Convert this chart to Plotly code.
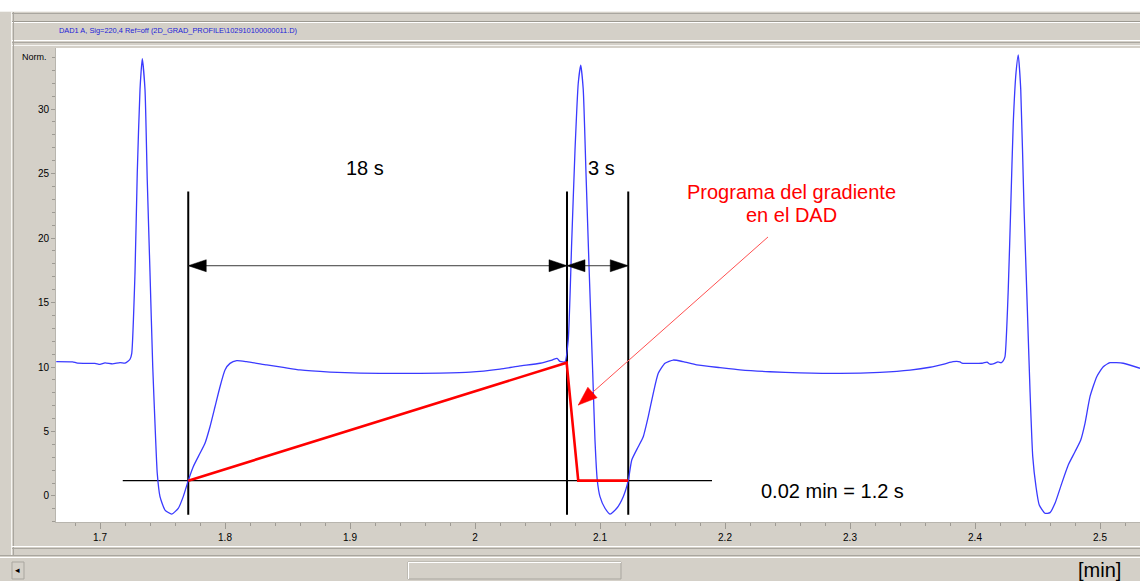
import math
import plotly.graph_objects as go

# ---------------------------------------------------------------------------
# DAD signal: retention time [min] vs normalised absorbance
# ---------------------------------------------------------------------------
signal_time = [
    1.665, 1.678, 1.682, 1.696, 1.700, 1.704, 1.710, 1.716, 1.720, 1.7224,
    1.724, 1.7254, 1.728, 1.7298, 1.732, 1.7338, 1.736, 1.7378, 1.740, 1.7422,
    1.744, 1.7458, 1.748, 1.752, 1.7574, 1.7626, 1.7666, 1.7706, 1.7746, 1.780,
    1.784, 1.788, 1.792, 1.796, 1.800, 1.804, 1.8094, 1.8174, 1.8334, 1.8466,
    1.860, 1.884, 1.908, 1.940, 1.972, 1.996, 2.020, 2.036, 2.052, 2.0616,
    2.0656, 2.068, 2.072, 2.0746, 2.0774, 2.080, 2.0826, 2.0846, 2.0866, 2.0888,
    2.0914, 2.0942, 2.096, 2.0978, 2.100, 2.104, 2.108, 2.1134, 2.1186, 2.1226,
    2.1254, 2.1306, 2.1346, 2.1386, 2.1426, 2.1466, 2.152, 2.1586, 2.1666, 2.1774,
    2.196, 2.212, 2.236, 2.260, 2.292, 2.324, 2.348, 2.364, 2.376, 2.3824,
    2.388, 2.3896, 2.4056, 2.4096, 2.412, 2.4152, 2.4184, 2.4208, 2.4224, 2.424,
    2.4266, 2.4286, 2.4306, 2.4328, 2.4346, 2.4366, 2.4392, 2.4418, 2.444, 2.4462,
    2.4488, 2.4514, 2.456, 2.460, 2.464, 2.4694, 2.4746, 2.480, 2.4846, 2.488,
    2.492, 2.4974, 2.5026, 2.508, 2.5186, 2.532,
]
signal_norm = [
    10.42, 10.40, 10.30, 10.28, 10.20, 10.32, 10.24, 10.34, 10.30, 10.45,
    10.60, 11.06, 17.3, 25.0, 31.5, 33.9, 31.5, 24.5, 17.3, 10.0,
    5.6, 1.76, -0.05, -1.09, -1.40, -0.96, -0.05, 1.19, 2.27, 3.31,
    4.09, 5.37, 6.92, 8.47, 9.77, 10.28, 10.49, 10.41, 10.16, 9.97,
    9.77, 9.61, 9.53, 9.50, 9.53, 9.60, 9.84, 10.08, 10.29, 10.54,
    10.67, 10.43, 10.40, 12.1, 19.8, 26.8, 32.0, 33.4, 31.5, 25.0,
    17.3, 9.5, 4.3, 1.24, -0.05, -0.95, -1.40, -0.95, -0.05, 1.19,
    2.79, 3.82, 4.60, 6.15, 7.96, 9.51, 10.29, 10.54, 10.41, 10.16,
    9.95, 9.78, 9.63, 9.55, 9.50, 9.58, 9.75, 9.98, 10.25, 10.41,
    10.40, 10.30, 10.29, 10.38, 10.22, 10.26, 10.40, 10.33, 10.45, 10.8,
    16.0, 22.4, 28.9, 32.8, 34.2, 31.5, 22.4, 14.7, 8.2, 3.05,
    0.72, -0.70, -1.34, -1.29, -0.57, 0.98, 2.40, 3.43, 4.34, 5.63,
    7.70, 9.25, 10.02, 10.33, 10.29, 9.90,
]

# Gradient program as seen by the DAD
gradient_time = [1.7706, 2.0733, 2.0826, 2.1226]
gradient_norm = [1.19, 10.33, 1.19, 1.19]

# Vertical guide markers and the reference baseline
guide_time = [1.7706, 2.0736, 2.1226]
guide_range = [-1.45, 23.6]
baseline_level = 1.19
baseline_span = [1.7182, 2.1896]
span_level = 17.85

# Axis ticks
x_tick_vals = [1.7, 1.8, 1.9, 2.0, 2.1, 2.2, 2.3, 2.4, 2.5]
x_tick_text = ["1.7", "1.8", "1.9", "2", "2.1", "2.2", "2.3", "2.4", "2.5"]
y_tick_vals = [0, 5, 10, 15, 20, 25, 30]
y_tick_text = ["0", "5", "10", "15", "20", "25", "30"]

# ---------------------------------------------------------------------------
# Layout geometry
# ---------------------------------------------------------------------------
W, H = 1140, 581
M_L, M_R, M_T, M_B = 56, 0, 48, 59
X_RANGE = [1.6648, 2.532]
Y_RANGE = [-2.016, 34.729]
PLOT_W = W - M_L - M_R
PLOT_H = H - M_T - M_B
SX = PLOT_W / (X_RANGE[1] - X_RANGE[0])
SY = PLOT_H / (Y_RANGE[1] - Y_RANGE[0])

WIN_GRAY = "#d4d0c8"
SMALL_FONT = "Liberation Sans Narrow, Arial Narrow, Liberation Sans, Arial, sans-serif"
TEXT_FONT = "Liberation Sans, Arial, sans-serif"


def px_x(px):
    return (px - M_L) / PLOT_W


def px_y(py):
    return (H - M_B - py) / PLOT_H


def arrow_head(tip, tail, length=18.0, half=6.0):
    """Filled triangle (in data units) with its point on `tip`, aimed away from `tail`."""
    dx = (tip[0] - tail[0]) * SX
    dy = (tip[1] - tail[1]) * SY
    n = math.hypot(dx, dy)
    ux, uy = dx / n, dy / n
    bx, by = -ux * length, -uy * length
    ox, oy = -uy * half, ux * half
    pts = [(0, 0), (bx + ox, by + oy), (bx - ox, by - oy), (0, 0)]
    xs = [tip[0] + p[0] / SX for p in pts]
    ys = [tip[1] + p[1] / SY for p in pts]
    return xs, ys


fig = go.Figure()

# Guide lines (black)
baseline_x = [baseline_span[0], baseline_span[1]]
fig.add_trace(go.Scatter(x=baseline_x, y=[baseline_level, baseline_level], mode="lines",
                         line=dict(color="#000000", width=1.4), hoverinfo="skip"))
for t in guide_time:
    fig.add_trace(go.Scatter(x=[t, t], y=guide_range, mode="lines",
                             line=dict(color="#000000", width=2), hoverinfo="skip"))

# DAD trace
fig.add_trace(go.Scatter(x=signal_time, y=signal_norm, mode="lines",
                         line=dict(color="rgb(58,58,255)", width=1.3, shape="spline", smoothing=0.5),
                         hoverinfo="skip"))

# Gradient program (red)
fig.add_trace(go.Scatter(x=gradient_time, y=gradient_norm, mode="lines",
                         line=dict(color="#ff0000", width=2.6), hoverinfo="skip"))

# Span arrows between the guide markers
for a, b in [(guide_time[0], guide_time[1]), (guide_time[1], guide_time[2])]:
    fig.add_trace(go.Scatter(x=[a, b], y=[span_level, span_level], mode="lines",
                             line=dict(color="#3a3a3a", width=1), hoverinfo="skip"))
    for tip, tail in [((a, span_level), (b, span_level)), ((b, span_level), (a, span_level))]:
        hx, hy = arrow_head(tip, tail, 18, 6)
        fig.add_trace(go.Scatter(x=hx, y=hy, mode="lines", fill="toself",
                                 fillcolor="#000000", line=dict(color="#000000", width=0.5),
                                 hoverinfo="skip"))

# Callout arrow for the gradient label
callout_tail = (2.2344, 20.08)
callout_tip = (2.0826, 7.05)
fig.add_trace(go.Scatter(x=[callout_tail[0], callout_tip[0]], y=[callout_tail[1], callout_tip[1]],
                         mode="lines", line=dict(color="#ff5050", width=1), hoverinfo="skip"))
hx, hy = arrow_head(callout_tip, callout_tail, 19, 7)
fig.add_trace(go.Scatter(x=hx, y=hy, mode="lines", fill="toself", fillcolor="#ff0000",
                         line=dict(color="#ff0000", width=0.5), hoverinfo="skip"))

annotations = [
    dict(x=1.912, y=25.43, text="18 s", font=dict(size=20, color="#000000", family=TEXT_FONT)),
    dict(x=2.1008, y=25.43, text="3 s", font=dict(size=20, color="#000000", family=TEXT_FONT)),
    dict(x=2.2532, y=23.6, text="Programa del gradiente",
         font=dict(size=20, color="#ff0000", family=TEXT_FONT)),
    dict(x=2.2532, y=21.75, text="en el DAD", font=dict(size=20, color="#ff0000", family=TEXT_FONT)),
    dict(x=2.2860, y=0.39, text="0.02 min = 1.2 s", font=dict(size=20, color="#000000", family=TEXT_FONT)),
]
for a in annotations:
    a.update(xref="x", yref="y", showarrow=False, xanchor="center", yanchor="middle")

# Y unit label at the top of the axis
annotations.append(dict(xref="paper", yref="y", x=0, y=34.0, xanchor="right", yanchor="middle",
                        xshift=-7, text="Norm.", showarrow=False,
                        font=dict(size=9, color="#000000", family=SMALL_FONT)))
# Signal description in the header strip
annotations.append(dict(xref="paper", yref="paper", x=px_x(57), y=px_y(30.5), xanchor="left",
                        yanchor="middle", showarrow=False,
                        text="DAD1 A, Sig=220,4 Ref=off (2D_GRAD_PROFILE\\102910100000011.D)",
                        font=dict(size=7.4, color="#1c1cd8", family=SMALL_FONT)))
# Time unit
annotations.append(dict(xref="paper", yref="paper", x=px_x(1099.5), y=px_y(570), xanchor="center",
                        yanchor="middle", showarrow=False, text="[min]",
                        font=dict(size=20, color="#000000", family=TEXT_FONT)))
# Scroll-left glyph
annotations.append(dict(xref="paper", yref="paper", x=px_x(17.5), y=px_y(570), xanchor="center",
                        yanchor="middle", showarrow=False, text="\u25c2",
                        font=dict(size=9, color="#000000", family=TEXT_FONT)))

# Window chrome around the plot
shapes = []


def hline(py, x0, x1, color, width=1):
    shapes.append(dict(type="line", xref="paper", yref="paper", x0=px_x(x0), x1=px_x(x1),
                       y0=px_y(py), y1=px_y(py), line=dict(color=color, width=width), layer="above"))


def vline(px, y0, y1, color, width=1):
    shapes.append(dict(type="line", xref="paper", yref="paper", x0=px_x(px), x1=px_x(px),
                       y0=px_y(y0), y1=px_y(y1), line=dict(color=color, width=width), layer="above"))


def box(x0, y0, x1, y1, fill, line_color=None):
    shapes.append(dict(type="rect", xref="paper", yref="paper", x0=px_x(x0), x1=px_x(x1),
                       y0=px_y(y1), y1=px_y(y0), fillcolor=fill,
                       line=dict(color=line_color or fill, width=1 if line_color else 0),
                       layer="above"))


box(0, 0, W, 11, "#ffffff")
hline(11.5, 0, W, "#f2f1ee")
hline(13.5, 12, W, "#a9a69f")
hline(21.5, 12, W, "#9c9991")
hline(22.5, 12, W, "#ffffff")
hline(40.5, 12, W, "#ffffff")
hline(42.5, 12, W, "#aaa7a0")
hline(45.5, 12, W, "#f6f5f2")
vline(11.5, 12, 556, "#f6f5f2")
vline(13.5, 12, 556, "#a9a69f")
hline(546.5, 12, W, "#ffffff")
hline(548.5, 12, W, "#a9a69f")
hline(555.5, 0, W, "#a9a69f")
hline(557.5, 0, W, "#ffffff")
box(12, 562, 24, 579, "#d4d0c8", "#a9a69f")
box(408, 562, 621, 579, "#d4d0c8", "#a9a69f")
hline(562.5, 408, 621, "#ffffff")
vline(408.5, 562, 579, "#ffffff")

fig.update_layout(
    width=W, height=H,
    margin=dict(l=M_L, r=M_R, t=M_T, b=M_B, pad=0),
    paper_bgcolor=WIN_GRAY,
    plot_bgcolor="#ffffff",
    showlegend=False,
    annotations=annotations,
    shapes=shapes,
    xaxis=dict(
        range=X_RANGE, showgrid=False, zeroline=False,
        tickmode="array", tickvals=x_tick_vals, ticktext=x_tick_text,
        ticks="outside", ticklen=6, tickwidth=1, tickcolor="#9d9a93",
        minor=dict(dtick=0.02, tick0=1.7, ticks="outside", ticklen=3, tickcolor="#9d9a93"),
        showline=True, linecolor="#b8b5ae", linewidth=1,
        tickfont=dict(size=10, color="#000000", family=SMALL_FONT),
        fixedrange=True,
    ),
    yaxis=dict(
        range=Y_RANGE, showgrid=False, zeroline=False,
        tickmode="array", tickvals=y_tick_vals, ticktext=y_tick_text,
        ticks="outside", ticklen=4, tickwidth=1, tickcolor="#9d9a93",
        minor=dict(dtick=1, tick0=0, ticks="outside", ticklen=3, tickcolor="#9d9a93"),
        showline=True, linecolor="#b8b5ae", linewidth=1,
        tickfont=dict(size=10, color="#000000", family=SMALL_FONT),
        fixedrange=True,
    ),
)

fig.write_html("out.html")
